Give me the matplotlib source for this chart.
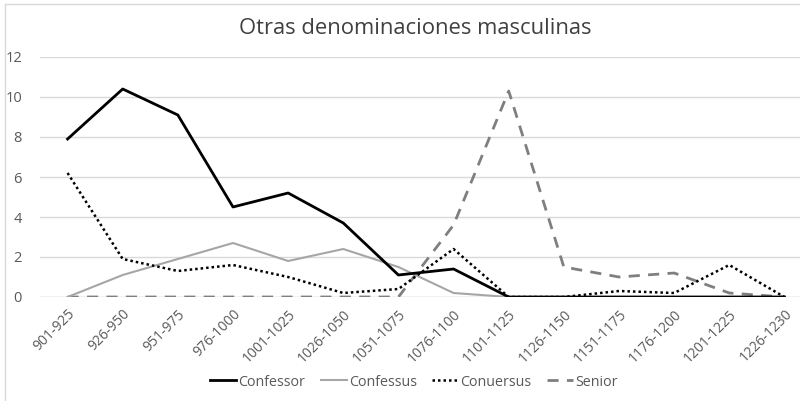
import matplotlib
matplotlib.use("Agg")
import matplotlib.pyplot as plt
from matplotlib.lines import Line2D

periods = ["901-925", "926-950", "951-975", "976-1000", "1001-1025", "1026-1050",
           "1051-1075", "1076-1100", "1101-1125", "1126-1150", "1151-1175",
           "1176-1200", "1201-1225", "1226-1230"]
confessor = [7.9, 10.4, 9.1, 4.5, 5.2, 3.7, 1.1, 1.4, 0, 0, 0, 0, 0, 0]
confessus = [0, 1.1, 1.9, 2.7, 1.8, 2.4, 1.5, 0.2, 0, 0, 0, 0, 0, 0]
conuersus = [6.2, 1.9, 1.3, 1.6, 1.0, 0.2, 0.4, 2.4, 0, 0, 0.3, 0.2, 1.6, 0]
senior = [0, 0, 0, 0, 0, 0, 0, 3.6, 10.3, 1.5, 1.0, 1.2, 0.2, 0]

plt.rcParams["font.family"] = ["Open Sans", "DejaVu Sans"]

W, H = 800, 401
fig = plt.figure(figsize=(W / 100, H / 100), dpi=100)
ax = fig.add_axes([40 / W, 1 - 297 / H, 772 / W, 240 / H])

x = range(len(periods))
ax.plot(x, confessor, color="black", lw=2.0, label="Confessor", zorder=4)
ax.plot(x, confessus, color="#a6a6a6", lw=1.5, label="Confessus", zorder=3)
ax.plot(x, conuersus, color="black", lw=1.8, ls=(0, (1, 1.2)), label="Conuersus", zorder=5)
ax.plot(x, senior, color="#7f7f7f", lw=2.0, ls=(0, (4, 3)), label="Senior", zorder=2)

ax.set_xlim(-0.5, len(periods) - 0.5)
ax.set_ylim(0, 12)
ax.set_yticks(range(0, 13, 2))
ax.set_xticks(list(x))
ax.set_xticklabels(periods, rotation=45, ha="right", rotation_mode="anchor")
ax.grid(axis="y", color="#d9d9d9", lw=1)
ax.set_axisbelow(True)
for s in ax.spines.values():
    s.set_visible(False)
ax.axhline(0, color="#d9d9d9", lw=1, zorder=1)
ax.tick_params(axis="both", length=0, labelsize=10, labelcolor="#595959")
ax.tick_params(axis="y", labelsize=10.5, pad=13)
ax.tick_params(axis="x", pad=7)

fig.text(415 / W, 1 - 28 / H, "Otras denominaciones masculinas", ha="center", va="center",
         fontsize=15.8, color="#404040")

handles = [Line2D([], [], color="black", lw=2.0),
           Line2D([], [], color="#a6a6a6", lw=1.5),
           Line2D([], [], color="black", lw=1.8, ls=(0, (1, 1.2))),
           Line2D([], [], color="#7f7f7f", lw=2.0, ls=(0, (4, 3)))]
fig.legend(handles, ["Confessor", "Confessus", "Conuersus", "Senior"], loc="center",
           bbox_to_anchor=(414 / W, 1 - 382 / H), ncol=4, frameon=False, fontsize=10.3,
           handlelength=1.8, handletextpad=0.15, columnspacing=1.1,
           labelcolor="#595959")

# chart border (cropped on right and bottom)
fig.add_artist(Line2D([5 / W, 5 / W], [0, 1 - 4 / H], color="#d9d9d9", lw=1))
fig.add_artist(Line2D([5 / W, 1], [1 - 4 / H, 1 - 4 / H], color="#d9d9d9", lw=1))

fig.savefig("out.png", dpi=100)
